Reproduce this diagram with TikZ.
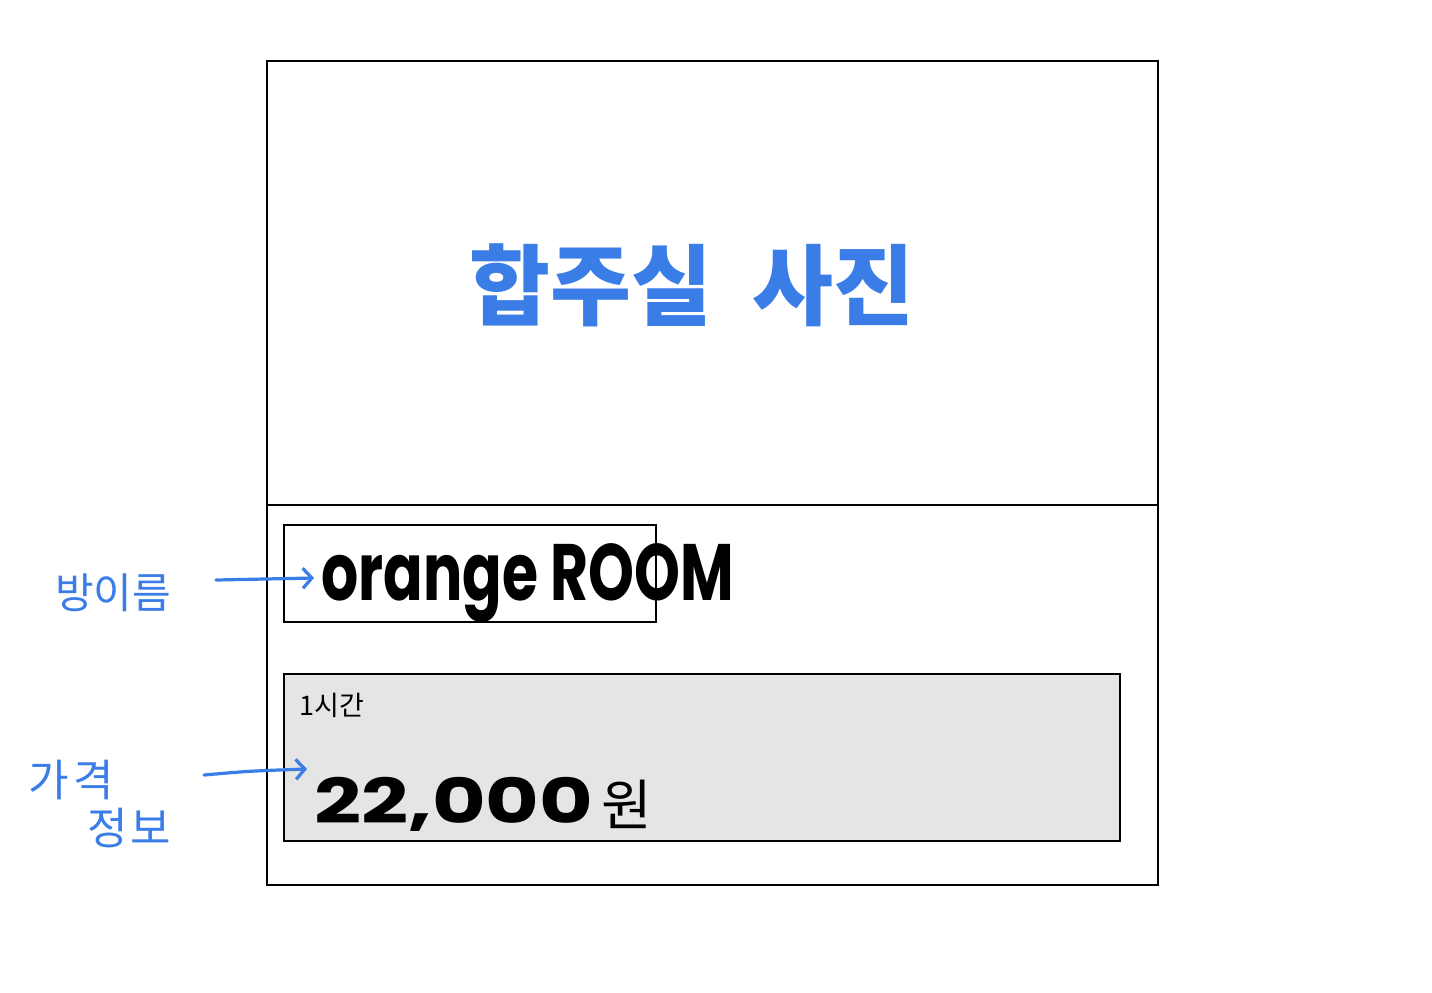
\documentclass[tikz,border=0pt]{standalone}
\usepackage{fontspec}
\newfontfamily\kr{Noto Sans CJK KR}
\newfontfamily\pop{Poppins}
\usetikzlibrary{arrows.meta}
\definecolor{penblue}{HTML}{3B7DE6}
\definecolor{boxgray}{HTML}{E5E5E5}
\tikzset{
  frame/.style={draw=black,line width=2.8pt},
  note/.style={text=penblue,font=\kr\bfseries,inner sep=0pt},
  pointer/.style={draw=penblue,line width=3.2pt,line cap=round,-{Straight Barb[length=9pt,width=20pt,line width=3.2pt]}},
}
\begin{document}
\begin{tikzpicture}[x=1pt,y=-1pt]
\useasboundingbox[fill=white] (0,0) rectangle (1432,993);
% outer card
\draw[frame] (267,61) rectangle (1158,885);
\draw[frame] (267,505) -- (1158,505);
% photo label
\node[note,font=\kr\bfseries\fontsize{88}{90}\selectfont,anchor=center] (photo) at (692,285) {합주실\hspace{0.45em}사진};
% name box
\draw[frame,line width=2.4pt] (284,525) rectangle (656,622);
\node[inner sep=0pt,anchor=west] (name) at (321,583) {\scalebox{0.73}[1]{\pop\bfseries\fontsize{80}{80}\selectfont orange ROOM}};
% price box
\draw[frame,fill=boxgray,line width=2.4pt] (284,674) rectangle (1120,841);
\node[inner sep=0pt,anchor=west,font=\kr\fontsize{27}{27}\selectfont] (hour) at (299,705) {1시간};
\node[inner sep=0pt,anchor=base west] (price) at (314,823) {\scalebox{1.33}[1]{\pop\bfseries\fontsize{62}{62}\selectfont 22,000}};
\node[inner sep=0pt,anchor=base west,font=\kr\fontsize{55}{55}\selectfont] (won) at (601,825) {원};
% side notes
\node[note,font=\kr\fontsize{42}{42}\selectfont,anchor=center] (roomlbl) at (113,593) {방이름};
\node[note,font=\kr\fontsize{44}{44}\selectfont,anchor=center] (pricelbl1) at (71,780) {가\hspace{0.1em}격};
\node[note,font=\kr\fontsize{44}{44}\selectfont,anchor=center] (pricelbl2) at (129,828) {정\hspace{0.05em}보};
\coordinate (a1s) at (216,580);
\coordinate (a1e) at (314,578);
\coordinate (a2s) at (204,775);
\coordinate (a2e) at (307,769);
\draw[pointer] (a1s) -- (a1e);
\draw[pointer] (a2s) .. controls (250,771) .. (a2e);
\end{tikzpicture}
\end{document}
